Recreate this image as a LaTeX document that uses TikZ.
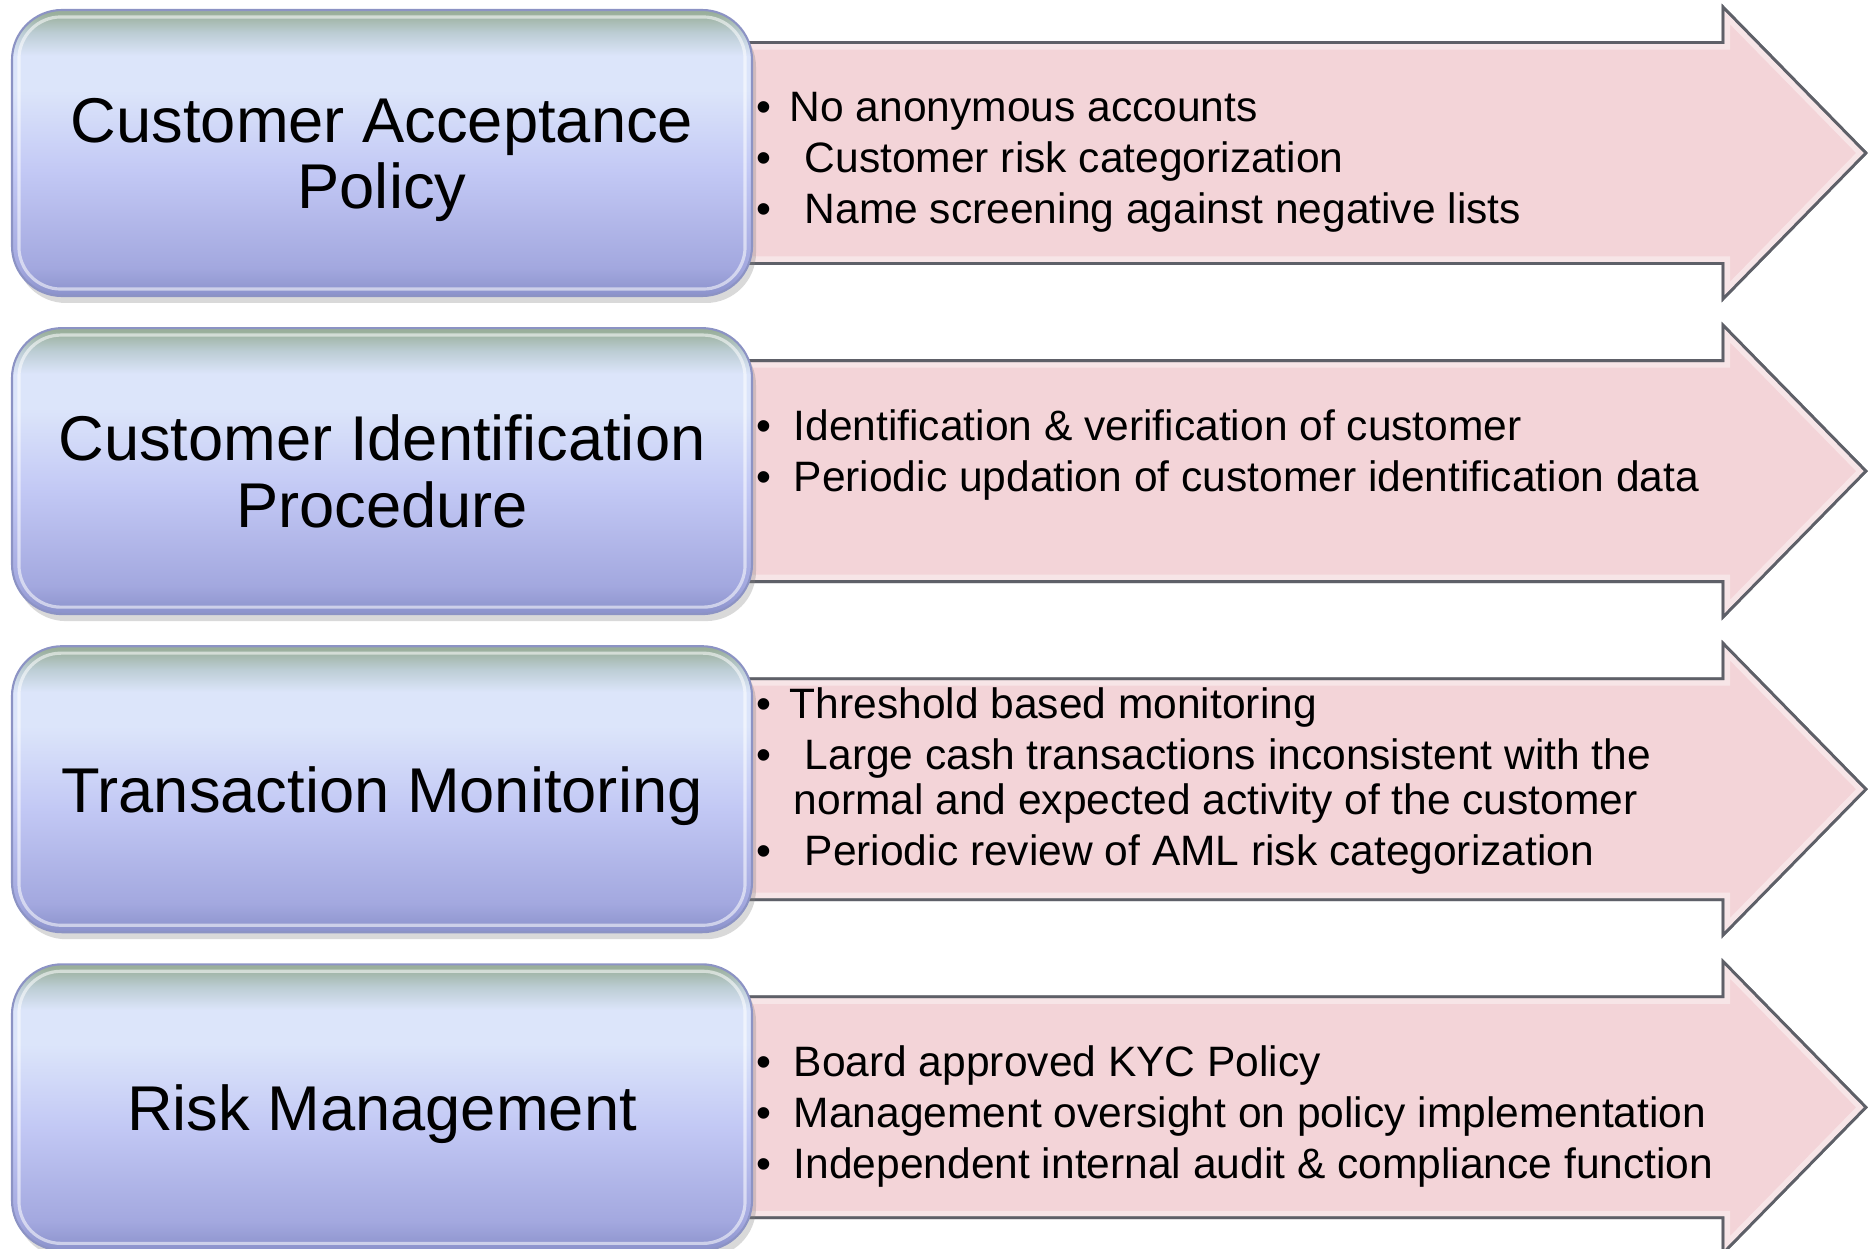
\documentclass[tikz,border=0pt]{standalone}
\usepackage{fontspec}
\setmainfont{Liberation Sans}
\usetikzlibrary{positioning,shadows,backgrounds}

\definecolor{boxtop}{HTML}{9AAF9B}
\definecolor{boxfade}{HTML}{BCCDD4}
\definecolor{boxhigh}{HTML}{DCE5FA}
\definecolor{boxmid}{HTML}{C3C9F5}
\definecolor{boxlow}{HTML}{A3A8DF}
\definecolor{boxbot}{HTML}{8B92CB}
\definecolor{boxedge}{HTML}{8C93C4}
\definecolor{arrowpink}{HTML}{F3D4D8}
\definecolor{arrowedge}{HTML}{5E6068}

% gel look of the title boxes, bottom to top
\pgfdeclareverticalshading{gel}{100bp}{color(0bp)=(boxbot); color(25bp)=(boxbot);
    color(30bp)=(boxlow); color(47bp)=(boxmid); color(61bp)=(boxhigh);
    color(67bp)=(boxhigh); color(71bp)=(boxfade); color(74.5bp)=(boxtop); color(100bp)=(boxtop)}

\tikzset{
    titlebox/.style={rounded corners=0.5cm, minimum width=7.4cm, minimum height=2.86cm,
        shading=gel, draw=boxedge, line width=0.6pt, align=center, text depth=0pt,
        font=\fontsize{18}{18.8}\selectfont,
        drop shadow={opacity=0.3, shadow xshift=0.04cm, shadow yshift=-0.07cm}},
    arrowbody/.style={fill=arrowpink, draw=arrowedge, line width=0.8pt,
        postaction={draw=white, fill=none, opacity=0.4, line width=4pt},
        postaction={draw=arrowedge, fill=none, line width=0.8pt}},
    points/.style={anchor=north west, inner sep=0pt, font=\fontsize{12.1}{14.5}\selectfont}
}
\newcommand{\bul}{\makebox[0.33cm][l]{\textbullet}}
\newcommand{\nobul}{\hspace*{0.33cm}}

\begin{document}
\begin{tikzpicture}
    \useasboundingbox (0,0) rectangle (18.72,12.49);

    \node[titlebox] (acc) at (3.82,10.96) {Customer Acceptance\\Policy};
    \node[titlebox, below=0.30cm of acc] (ident) {Customer Identification\\Procedure};
    \node[titlebox, below=0.30cm of ident] (trans) {Transaction Monitoring};
    \node[titlebox, below=0.30cm of trans] (risk) {Risk Management};

    % inner rim
    \foreach \b in {acc,ident,trans,risk}
        \draw[white, opacity=0.55, line width=0.9pt, rounded corners=0.42cm]
            ([shift={(0.08,0.08)}]\b.south west) rectangle ([shift={(-0.08,-0.08)}]\b.north east);

    % arrows behind the boxes
    \begin{scope}[on background layer]
        \foreach \b in {acc,ident,trans,risk}
            \path[arrowbody, shift={(\b.center)}] (3.4,1.105) -- (13.41,1.105) -- (13.41,1.46)
                -- (14.84,0) -- (13.41,-1.46) -- (13.41,-1.105) -- (3.4,-1.105) -- cycle;
    \end{scope}

    \node[points] (accl) at ([shift={(0.03,0.68)}]acc.east) {\begin{tabular}{@{}l@{}}
        \bul No anonymous accounts\\
        \bul\hspace{0.15cm}Customer risk categorization\\
        \bul\hspace{0.15cm}Name screening against negative lists
    \end{tabular}};
    \node[points] (identl) at ([shift={(0.03,0.67)}]ident.east) {\begin{tabular}{@{}l@{}}
        \bul\hspace{0.04cm}Identification \& verification of customer\\
        \bul\hspace{0.04cm}Periodic updation of customer identification data
    \end{tabular}};
    \node[points] (transl) at ([shift={(0.03,1.07)}]trans.east) {\begin{tabular}{@{}l@{}}
        \bul Threshold based monitoring\\
        \bul\hspace{0.15cm}Large cash transactions inconsistent with the\\[-0.06cm]
        \nobul\hspace{0.04cm}normal and expected activity of the customer\\
        \bul\hspace{0.15cm}Periodic review of AML risk categorization
    \end{tabular}};
    \node[points] (riskl) at ([shift={(0.03,0.67)}]risk.east) {\begin{tabular}{@{}l@{}}
        \bul\hspace{0.04cm}Board approved KYC Policy\\
        \bul\hspace{0.04cm}Management oversight on policy implementation\\
        \bul\hspace{0.04cm}Independent internal audit \& compliance function
    \end{tabular}};
\end{tikzpicture}
\end{document}
